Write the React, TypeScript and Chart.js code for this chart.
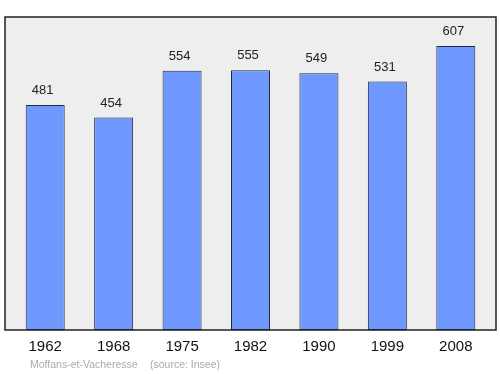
import React, { useEffect, useRef } from "react";
import { Chart, registerables } from "chart.js";

Chart.register(...registerables);

const years: string[] = ["1962", "1968", "1975", "1982", "1990", "1999", "2008"];
const population: number[] = [481, 454, 554, 555, 549, 531, 607];
const commune = "Moffans-et-Vacheresse";
const source = "(source: Insee)";
const yMax = 669;

const FONT = "'Liberation Sans', Arial, sans-serif";

const framePlugin = {
  id: "frame",
  beforeDraw(chart: any) {
    const { ctx, chartArea } = chart;
    const l = chartArea.left - 6;
    const r = chartArea.right + 6;
    const t = chartArea.top;
    const b = chartArea.bottom;
    ctx.save();
    ctx.fillStyle = "#eeeeee";
    ctx.fillRect(l, t, r - l, b - t);
    ctx.restore();
  },
  afterDatasetsDraw(chart: any) {
    const { ctx, chartArea, scales } = chart;
    const l = chartArea.left - 6;
    const r = chartArea.right + 6;
    const t = chartArea.top;
    const b = chartArea.bottom;
    ctx.save();
    ctx.strokeStyle = "#222222";
    ctx.lineWidth = 1.5;
    ctx.strokeRect(l, t, r - l, b - t);
    // value labels
    ctx.fillStyle = "#222222";
    ctx.font = "13px " + FONT;
    ctx.textAlign = "center";
    ctx.textBaseline = "alphabetic";
    const meta = chart.getDatasetMeta(0);
    meta.data.forEach((bar: any, i: number) => {
      ctx.fillText(String(population[i]), bar.x - 2.5, bar.y - 11);
    });
    // x labels
    ctx.fillStyle = "#111111";
    ctx.font = "15px " + FONT;
    ctx.textBaseline = "middle";
    years.forEach((y, i) => {
      ctx.fillText(y, scales.x.getPixelForValue(i), b + 17);
    });
    // footer
    ctx.fillStyle = "#aaaaaa";
    ctx.font = "10.5px " + FONT;
    ctx.textAlign = "left";
    ctx.fillText(commune, 30, b + 35);
    ctx.fillText(source, 150, b + 35);
    ctx.restore();
  },
};

export default function App() {
  const ref = useRef<HTMLCanvasElement | null>(null);
  useEffect(() => {
    if (!ref.current) return;
    const chart = new Chart(ref.current, {
      type: "bar",
      data: {
        labels: years,
        datasets: [
          {
            data: population,
            backgroundColor: "#6f99ff",
            borderColor: "#222a44",
            borderWidth: 1,
            borderSkipped: false,
            categoryPercentage: 1,
            barPercentage: 0.57,
          },
        ],
      },
      options: {
        responsive: false,
        animation: false,
        layout: { padding: { left: 11, right: 10, top: 17, bottom: 44 } },
        plugins: { legend: { display: false }, tooltip: { enabled: false } },
        scales: {
          x: { display: false },
          y: { display: false, min: 0, max: yMax },
        },
      },
      plugins: [framePlugin],
    });
    return () => chart.destroy();
  }, []);
  return (
    <div style={{ position: "absolute", left: 0, top: 0, width: 500, height: 374, background: "#fff" }}>
      <canvas ref={ref} width={500} height={374} />
    </div>
  );
}
